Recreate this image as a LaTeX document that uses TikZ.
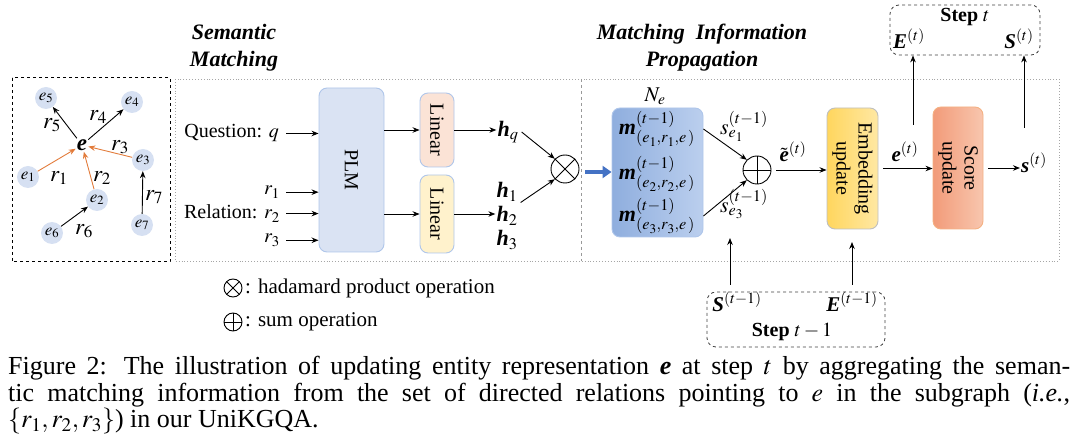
\documentclass[tikz,border=0pt]{standalone}
\usepackage{mathptmx}
\usepackage[no-math]{fontspec}
\setmainfont{Liberation Serif}
\usetikzlibrary{arrows.meta}
\newcommand{\bvec}[1]{\mbox{\textbf{\textit{#1}}}}
\definecolor{entfill}{HTML}{D6E0F2}
\definecolor{plmfill}{HTML}{DAE3F3}
\definecolor{plmdraw}{HTML}{AFC6EA}
\definecolor{linone}{HTML}{FBE3D6}
\definecolor{lintwo}{HTML}{FFF2CC}
\definecolor{mleft}{HTML}{8FAEDE}
\definecolor{mright}{HTML}{BBCFEE}
\definecolor{embleft}{HTML}{FFD65E}
\definecolor{embright}{HTML}{FFE8A3}
\definecolor{scleft}{HTML}{F29B79}
\definecolor{scright}{HTML}{F8C6AE}
\definecolor{scdraw}{HTML}{F4B183}
\definecolor{orarr}{HTML}{E27B3A}
\definecolor{bluearr}{HTML}{4472C4}
\tikzset{
  arr/.style={-{Stealth[length=7pt,width=5.5pt]}, line width=0.9pt},
  ent/.style={circle, fill=entfill, minimum size=22pt, inner sep=0pt, font=\fontsize{17}{17}\selectfont},
  rlab/.style={font=\fontsize{23}{23}\selectfont, inner sep=0pt},
  blk/.style={rounded corners=8pt, inner sep=0pt, line width=0.9pt},
  opc/.style={circle, draw, line width=0.9pt, minimum size=28pt, inner sep=0pt},
  otim/.style={opc, path picture={\draw[line width=0.9pt] (path picture bounding box.north west) -- (path picture bounding box.south east) (path picture bounding box.north east) -- (path picture bounding box.south west);}},
  oplu/.style={opc, path picture={\draw[line width=0.9pt] (path picture bounding box.north) -- (path picture bounding box.south) (path picture bounding box.east) -- (path picture bounding box.west);}},
  stepbox/.style={draw=black!75, dashed, rounded corners=9pt, line width=0.8pt, inner sep=0pt},
  title/.style={font=\fontsize{22}{27}\selectfont\bfseries\itshape, align=center},
  vtext/.style={rotate=-90, align=center, font=\fontsize{20}{22}\selectfont},
  mlab/.style={inner sep=0pt, font=\fontsize{22}{22}\selectfont},
}
\begin{document}
\begin{tikzpicture}[x=1pt,y=-1pt,font=\fontsize{20}{24}\selectfont]
\useasboundingbox (0,0) rectangle (1080,446);

% ---------- left graph ----------
\draw[dashed, line width=1pt] (12,78) rectangle (170,262);
\node[font=\fontsize{23}{23}\selectfont, inner sep=1pt] (e) at (82,145) {$\bvec{e}$};
\node[ent] (e5) at (46,98) {$e_5$};
\node[ent] (e4) at (132,102) {$e_4$};
\node[ent] (e3) at (143,160) {$e_3$};
\node[ent] (e1) at (28,177) {$e_1$};
\node[ent] (e2) at (97,200) {$e_2$};
\node[ent] (e7) at (142,225) {$e_7$};
\node[ent] (e6) at (52,233) {$e_6$};
\draw[arr] (e) -- (e5);
\draw[arr] (e) -- (e4);
\draw[arr, orarr] (e1) -- (e);
\draw[arr, orarr] (e2) -- (e);
\draw[arr, orarr] (e3) -- (e);
\draw[arr] (e6) -- (e2);
\draw[arr] (e7) -- (e3);
\node[rlab] (r5) at (52,125) {$r_5$};
\node[rlab] (r4) at (98,117) {$r_4$};
\node[rlab] (r3) at (120,147) {$r_3$};
\node[rlab] (r1) at (59,178) {$r_1$};
\node[rlab] (r2) at (102,178) {$r_2$};
\node[rlab] (r7) at (154,197) {$r_7$};
\node[rlab] (r6) at (84,231) {$r_6$};

% ---------- frames ----------
\draw[gray!70, dotted, line width=0.9pt] (175,79) rectangle (1059,261);
\draw[gray!80, dashed, line width=0.7pt] (581,79) -- (581,261);
\node[title] (tsem) at (234,48) {Semantic\\Matching};
\node[title] (tmip) at (702,48) {Matching~~Information\\Propagation};

% ---------- semantic matching ----------
\node[blk, draw=plmdraw, fill=plmfill, minimum width=65pt, minimum height=164pt] (plm) at (351.5,170) {};
\node[vtext] at (plm.center) {PLM};
\node[anchor=base east, inner sep=1pt] (qq) at (280,138) {Question: $q$};
\node[anchor=base east, inner sep=1pt] (ra) at (281,195) {$r_1$};
\node[anchor=base east, inner sep=1pt] (rb) at (281,219) {Relation: $r_2$};
\node[anchor=base east, inner sep=1pt] (rc) at (281,243) {$r_3$};
\draw[arr] ([xshift=6pt]qq.east) -- (qq.east -| plm.west);
\draw[arr] ([xshift=5pt]ra.east) -- (ra.east -| plm.west);
\draw[arr] ([xshift=5pt]rb.east) -- (rb.east -| plm.west);
\draw[arr] ([xshift=5pt]rc.east) -- (rc.east -| plm.west);

\node[blk, draw=plmdraw, fill=linone, minimum width=34pt, minimum height=74pt] (lintop) at (437,130) {};
\node[vtext] at (lintop.center) {Linear};
\node[blk, draw=plmdraw, fill=lintwo, minimum width=34pt, minimum height=78pt] (linbot) at (437,214) {};
\node[vtext] at (linbot.center) {Linear};
\draw[arr] (plm.east |- lintop.west) -- (lintop.west);
\draw[arr] (plm.east |- linbot.west) -- (linbot.west);

\node[font=\fontsize{22}{22}\selectfont, inner sep=1pt] (hq) at (508,132) {$\bvec{h}_q$};
\node[font=\fontsize{22}{22}\selectfont, inner sep=1pt] (h1) at (507,192) {$\bvec{h}_1$};
\node[font=\fontsize{22}{22}\selectfont, inner sep=1pt] (h2) at (507,216) {$\bvec{h}_2$};
\node[font=\fontsize{22}{22}\selectfont, inner sep=1pt] (h3) at (507,240) {$\bvec{h}_3$};
\draw[arr] (lintop.east) -- (lintop.east -| hq.west);
\draw[arr] (linbot.east) -- (linbot.east -| h2.west);

\node[otim] (otimes) at (565,169) {};
\draw[arr] ([xshift=2pt]hq.east) -- (otimes.north west);
\draw[arr] ([xshift=2pt]h1.south east) -- (otimes.south west);

% ---------- propagation ----------
\node[blk, draw=plmdraw, left color=mleft, right color=mright, minimum width=91pt, minimum height=129pt] (mbox) at (657.5,172.5) {};
\node[inner sep=0pt, font=\fontsize{21}{21}\selectfont] (ne) at (655,96) {$N_e$};
\node[mlab] (m1) at (657,129) {$\bvec{m}^{(t-1)}_{(e_1,r_1,e\,)}$};
\node[mlab] (m2) at (657,174) {$\bvec{m}^{(t-1)}_{(e_2,r_2,e\,)}$};
\node[mlab] (m3) at (657,216) {$\bvec{m}^{(t-1)}_{(e_3,r_3,e\,)}$};
\coordinate (bs) at (585,172);
\draw[bluearr, line width=4pt, -{Triangle[length=9pt,width=12pt]}] (bs) -- (bs -| mbox.west);

\node[oplu] (oplus) at (757,170) {};
\draw[arr] (mbox.east |- m1) -- (oplus.north west);
\draw[arr] (mbox.east |- m3) -- (oplus.south west);
\node[mlab] (s1) at (744,126) {$s_{e_1}^{(t-1)}$};
\node[mlab] (s3) at (744,204) {$s_{e_3}^{(t-1)}$};

\node[blk, draw=gray!50, left color=embleft, right color=embright, minimum width=51pt, minimum height=121pt] (emb) at (852.5,168.5) {};
\node[vtext] at (emb.center) {Embedding\\update};
\node[blk, draw=scdraw, left color=scleft, right color=scright, minimum width=50pt, minimum height=122pt] (score) at (958,168) {};
\node[vtext] at (score.center) {Score\\update};

\draw[arr, shorten <=5pt] (oplus.east) -- (oplus.east -| emb.west);
\node[inner sep=0pt, font=\fontsize{21}{21}\selectfont] (etil) at (793,152) {$\tilde{\bvec{e}}^{(t)}$};
\draw[arr, shorten <=5pt] (emb.east) -- (emb.east -| score.west);
\node[inner sep=0pt, font=\fontsize{21}{21}\selectfont] (et) at (905,152) {$\bvec{e}^{(t)}$};
\node[inner sep=1pt, font=\fontsize{21}{21}\selectfont] (st) at (1034,163) {$\bvec{s}^{(t)}$};
\draw[arr, shorten <=5pt] (score.east) -- (score.east -| st.west);

% ---------- step t ----------
\node[stepbox, minimum width=150pt, minimum height=50pt] (stept) at (965,30) {};
\node[font=\fontsize{20}{20}\selectfont\bfseries] (steptl) at (965,17) {Step $t$};
\node[font=\fontsize{21}{21}\selectfont] (Et) at (909,39) {$\bvec{E}^{(t)}$};
\node[font=\fontsize{21}{21}\selectfont] (St) at (1019,39) {$\bvec{S}^{(t)}$};
\coordinate (u1) at (913,125);
\coordinate (u2) at (1024,128);
\draw[arr] (u1) -- (u1 |- stept.south);
\draw[arr] (u2) -- (u2 |- stept.south);

% ---------- step t-1 ----------
\node[stepbox, minimum width=178pt, minimum height=55pt] (stepp) at (796,319.5) {};
\node[font=\fontsize{21}{21}\selectfont] (Sp) at (737,302) {$\bvec{S}^{(t-1)}$};
\node[font=\fontsize{21}{21}\selectfont] (Ep) at (852,302) {$\bvec{E}^{(t-1)}$};
\node[font=\fontsize{20}{20}\selectfont\bfseries] (steppl) at (792,332) {Step $t-1$};
\coordinate (d1s) at (730,285);
\coordinate (d1e) at (730,238);
\coordinate (d2s) at (852,285);
\coordinate (d2e) at (852,242);
\draw[arr] (d1s) -- (d1e);
\draw[arr] (d2s) -- (d2e);

% ---------- legend ----------
\node[otim, minimum size=18pt] (lo) at (233,288) {};
\node[anchor=west, inner sep=0pt, font=\fontsize{21}{21}\selectfont] (lot) at (245,288) {: hadamard product operation};
\node[oplu, minimum size=18pt] (lp) at (233,322) {};
\node[anchor=west, inner sep=0pt, font=\fontsize{21}{21}\selectfont] (lpt) at (245,322) {: sum operation};

% ---------- caption ----------
\node[anchor=north west, text width=1062pt, align=justify, inner sep=0pt, font=\fontsize{26}{26.5}\selectfont] (cap) at (8,356) {Figure 2: The illustration of updating entity representation $\bvec{e}$ at step $t$ by aggregating the seman-\linebreak tic matching information from the set of directed relations pointing to $e$ in the subgraph (\textit{i.e.},\linebreak $\{r_1,r_2,r_3\}$) in our UniKGQA.};
\end{tikzpicture}
\end{document}
